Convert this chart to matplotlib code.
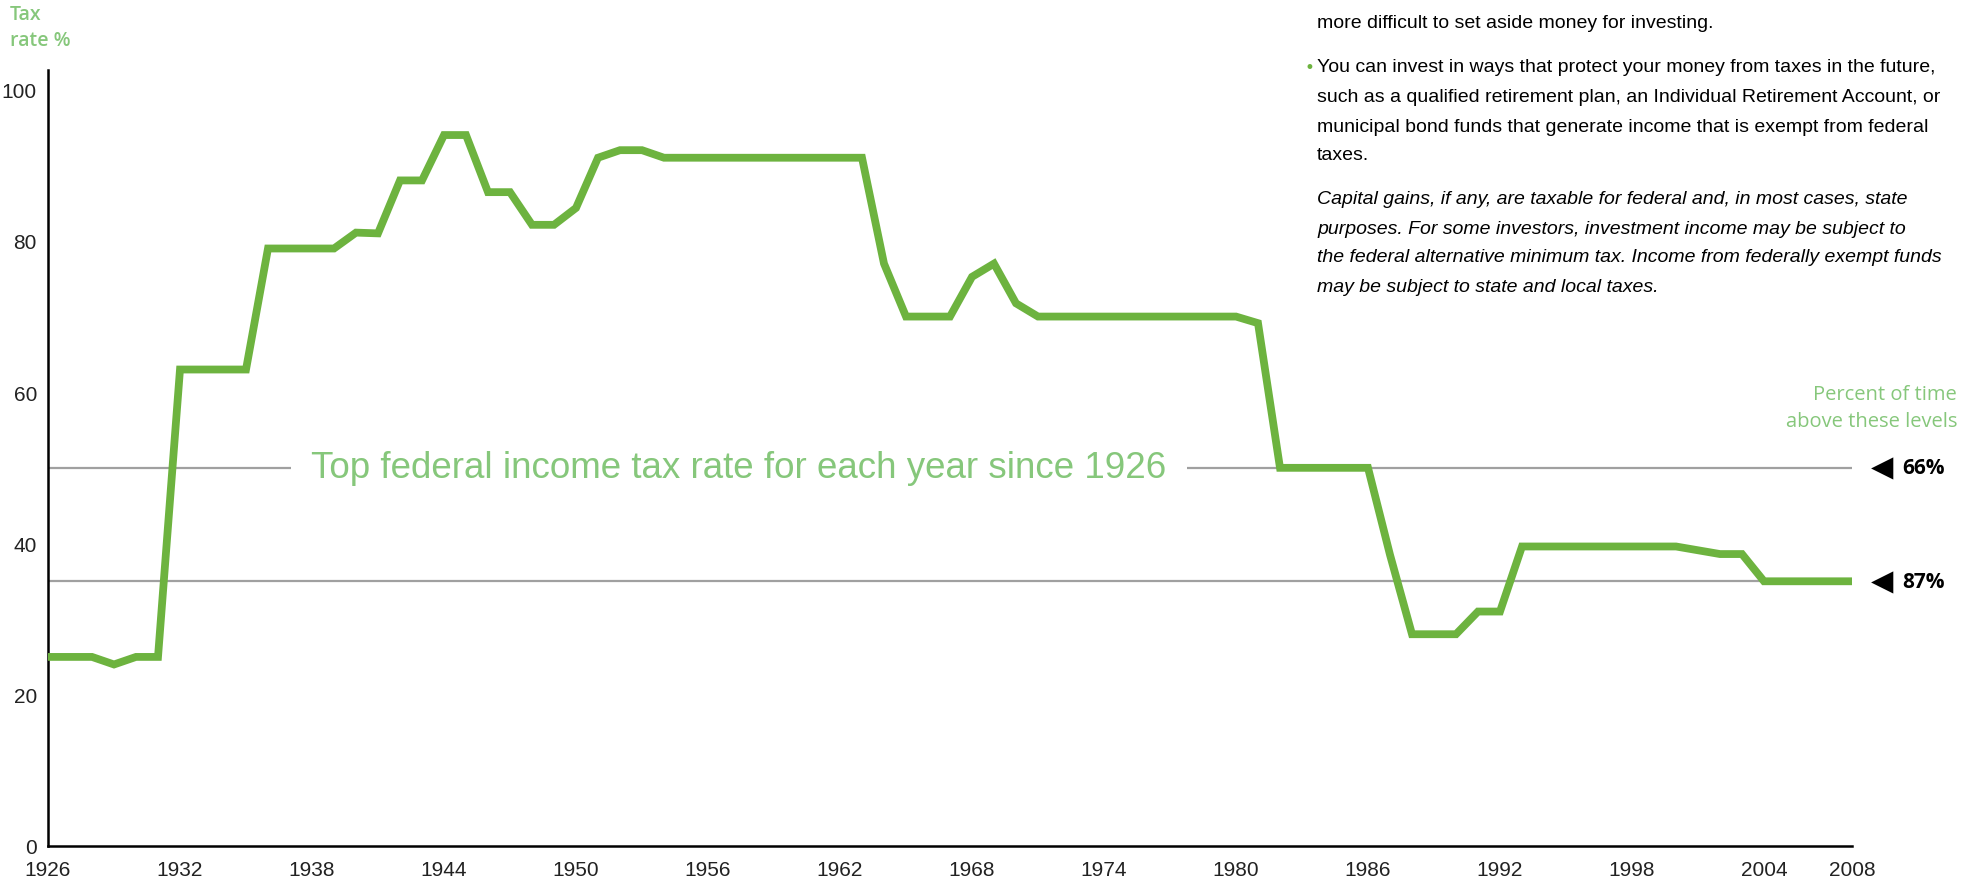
import matplotlib.pyplot as plt
import matplotlib.transforms as mtransforms

# top federal income tax rate, 1926-2008
years = list(range(1926, 2009))
top_rates = [
    25, 25, 25, 24, 25, 25,            # 1926-1931
    63, 63, 63, 63,                    # 1932-1935
    79, 79, 79, 79,                    # 1936-1939
    81.1, 81, 88, 88, 94, 94,          # 1940-1945
    86.45, 86.45, 82.13, 82.13, 84.36,  # 1946-1950
    91, 92, 92,                        # 1951-1953
    91, 91, 91, 91, 91, 91, 91, 91, 91, 91,  # 1954-1963
    77, 70, 70, 70, 75.25, 77, 71.75,  # 1964-1970
    70, 70, 70, 70, 70, 70, 70, 70, 70, 70,  # 1971-1980
    69.13,                             # 1981
    50, 50, 50, 50, 50,                # 1982-1986
    38.5, 28, 28, 28, 31, 31,          # 1987-1992
    39.6, 39.6, 39.6, 39.6, 39.6, 39.6, 39.6, 39.6,  # 1993-2000
    39.1, 38.6, 38.6,                  # 2001-2003
    35, 35, 35, 35, 35,                # 2004-2008
]

x_ticks = [1926, 1932, 1938, 1944, 1950, 1956, 1962, 1968, 1974, 1980, 1986, 1992, 1998, 2004, 2008]
y_ticks = [0, 20, 40, 60, 80, 100]

ref_levels = [50, 35]
ref_pcts = ['66%', '87%']

title = 'Top federal income tax rate for each year since 1926'

para1 = ['more difficult to set aside money for investing.']
para2 = ['You can invest in ways that protect your money from taxes in the future,',
         'such as a qualified retirement plan, an Individual Retirement Account, or',
         'municipal bond funds that generate income that is exempt from federal',
         'taxes.']
para3 = ['Capital gains, if any, are taxable for federal and, in most cases, state',
         'purposes. For some investors, investment income may be subject to',
         'the federal alternative minimum tax. Income from federally exempt funds',
         'may be subject to state and local taxes.']

GREEN = '#6db33f'
LIGHT_GREEN = '#86c77b'
NARROW = ['Liberation Sans Narrow', 'Liberation Sans', 'DejaVu Sans']
W, H = 1973, 887

fig = plt.figure(figsize=(19.73, 8.87), dpi=100)
ax = fig.add_axes([48 / W, 40 / H, (1852 - 48) / W, (847 - 71) / H])

ax.plot(years, top_rates, color=GREEN, lw=5.6, solid_joinstyle='miter', zorder=3)
for lvl in ref_levels:
    ax.axhline(lvl, color='#a0a0a0', lw=1.6, zorder=1)

ax.text(1957.4, ref_levels[0], title, ha='center', va='center', fontsize=26.5,
        color=LIGHT_GREEN, family=NARROW, zorder=2,
        bbox=dict(boxstyle='square,pad=0.55', fc='white', ec='none'))

ax.set_xlim(1926, 2008)
ax.set_ylim(0, 102.6)
ax.set_xticks(x_ticks)
ax.set_yticks(y_ticks)
ax.tick_params(length=0, labelsize=15, colors='#222222')
ax.tick_params(axis='x', pad=10)
ax.tick_params(axis='y', pad=8)
for lab in ax.get_xticklabels() + ax.get_yticklabels():
    lab.set_family(NARROW)
for side in ['top', 'right']:
    ax.spines[side].set_visible(False)
for side in ['left', 'bottom']:
    ax.spines[side].set_linewidth(1.8)
    ax.spines[side].set_color('black')

# right-hand annotations
trans = mtransforms.blended_transform_factory(ax.transAxes, ax.transData)
for lvl, pct in zip(ref_levels, ref_pcts):
    ax.text(1.0166, lvl, '\u25C0', transform=trans, ha='center', va='center',
            fontsize=21, color='black', family='DejaVu Sans', clip_on=False)
    ax.text(1.028, lvl, pct, transform=trans, ha='left', va='center',
            fontsize=15, fontweight='bold', color='black', family='Open Sans', clip_on=False)

fig.text(1957 / W, 1 - 395 / H, 'Percent of time', ha='right', va='center',
         fontsize=14.5, color=LIGHT_GREEN, family='Open Sans')
fig.text(1957 / W, 1 - 422 / H, 'above these levels', ha='right', va='center',
         fontsize=14.5, color=LIGHT_GREEN, family='Open Sans')

fig.text(10 / W, 1 - 15 / H, 'Tax', ha='left', va='center', fontsize=14,
         fontweight='semibold', color=LIGHT_GREEN, family='Open Sans')
fig.text(10 / W, 1 - 41 / H, 'rate %', ha='left', va='center', fontsize=14,
         fontweight='semibold', color=LIGHT_GREEN, family='Open Sans')

# explanatory text, top right
x0 = 1317 / W
for line, y in zip(para1, [23]):
    fig.text(x0, 1 - y / H, line, ha='left', va='center', fontsize=14, family=NARROW)
fig.text(1309 / W, 1 - 68 / H, '\u2022', ha='center', va='center', fontsize=12, color=GREEN)
for line, y in zip(para2, [68, 97, 127, 155]):
    fig.text(x0, 1 - y / H, line, ha='left', va='center', fontsize=14, family=NARROW)
for line, y in zip(para3, [200, 230, 258, 287]):
    fig.text(x0, 1 - y / H, line, ha='left', va='center', fontsize=14, style='italic', family=NARROW)

fig.savefig('out.png', dpi=100)
